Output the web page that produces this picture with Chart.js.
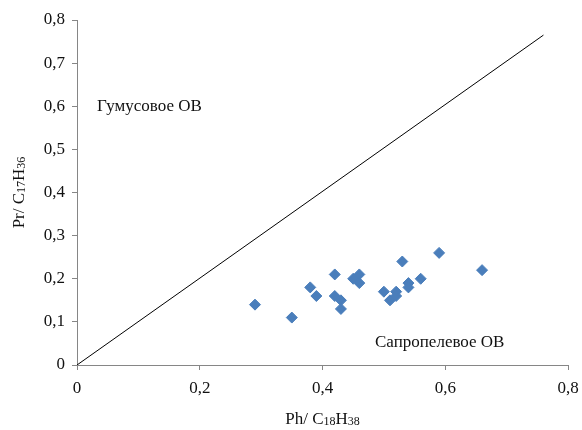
<!DOCTYPE html>
<html lang="ru">
<head>
<meta charset="utf-8" />
<title>Pr/C17 vs Ph/C18</title>
<script src="https://cdn.jsdelivr.net/npm/chart.js@4.4.1/dist/chart.umd.min.js"></script>
<style>
	html, body { margin: 0; padding: 0; background: #ffffff; }
	#wrap { width: 582px; height: 430px; }
</style>
</head>
<body>
<div id="wrap"><canvas id="chart" width="582" height="430"></canvas></div>
<script>
	// samples: Ph/C18H38 (x) and Pr/C17H36 (y)
	const phX = [0.29, 0.35, 0.38, 0.39, 0.42, 0.42, 0.43, 0.43, 0.45, 0.46, 0.46, 0.50, 0.51, 0.52, 0.52, 0.53, 0.54, 0.54, 0.56, 0.59, 0.66];
	const prY = [0.14, 0.11, 0.18, 0.16, 0.21, 0.16, 0.15, 0.13, 0.20, 0.21, 0.19, 0.17, 0.15, 0.17, 0.16, 0.24, 0.19, 0.18, 0.20, 0.26, 0.22];

	// dividing line between the two fields
	const lineX = [0, 0.76];
	const lineY = [0, 0.765];

	const xTicks = [0, 0.2, 0.4, 0.6, 0.8];
	const yTicks = [0, 0.1, 0.2, 0.3, 0.4, 0.5, 0.6, 0.7, 0.8];

	const fieldLabels = ['Гумусовое ОВ', 'Сапропелевое ОВ'];

	const serif = '"Liberation Serif", "Times New Roman", serif';
	const axisGrey = '#868686';
	const fmt = v => String(Math.round(v * 10) / 10).replace('.', ',');

	// draws text with digits as subscripts, e.g. C17H36
	function drawSub(ctx, parts, x, y) {
		let w = 0;
		parts.forEach(p => {
			ctx.font = (p.sub ? '12px ' : '17px ') + serif;
			w += ctx.measureText(p.t).width;
		});
		let cx = x - w / 2;
		parts.forEach(p => {
			ctx.font = (p.sub ? '12px ' : '17px ') + serif;
			ctx.fillText(p.t, cx, y + (p.sub ? 2 : 0));
			cx += ctx.measureText(p.t).width;
		});
	}

	const textPlugin = {
		id: 'texts',
		afterDraw(chart) {
			const ctx = chart.ctx;
			const a = chart.chartArea;
			ctx.save();
			ctx.fillStyle = '#111111';
			ctx.textBaseline = 'middle';
			ctx.textAlign = 'left';

			// x title
			drawSub(ctx, [{t: 'Ph/ C'}, {t: '18', sub: true}, {t: 'H'}, {t: '38', sub: true}], (a.left + a.right) / 2, 420);

			// y title
			ctx.save();
			ctx.translate(20, (a.top + a.bottom) / 2);
			ctx.rotate(-Math.PI / 2);
			drawSub(ctx, [{t: 'Pr/ C'}, {t: '17', sub: true}, {t: 'H'}, {t: '36', sub: true}], 0, 0);
			ctx.restore();

			// field names
			ctx.font = '17px ' + serif;
			ctx.fillText(fieldLabels[0], a.left + 20, 107);
			ctx.fillText(fieldLabels[1], a.left + 298, 343);
			ctx.restore();
		}
	};

	new Chart(document.getElementById('chart'), {
		type: 'scatter',
		data: {
			datasets: [
				{
					label: 'line',
					data: lineX.map((x, i) => ({ x: x, y: lineY[i] })),
					showLine: true,
					borderColor: '#000000',
					borderWidth: 1,
					pointRadius: 0
				},
				{
					label: 'samples',
					data: phX.map((x, i) => ({ x: x, y: prY[i] })),
					pointStyle: 'rectRot',
					pointRadius: 5.5,
					backgroundColor: '#4a7ebb',
					borderColor: '#4a7ebb',
					borderWidth: 1
				}
			]
		},
		options: {
			responsive: false,
			animation: false,
			layout: { padding: { top: 20, right: 14, left: 0, bottom: 0 } },
			plugins: {
				legend: { display: false },
				tooltip: { enabled: false }
			},
			scales: {
				x: {
					type: 'linear',
					min: 0, max: 0.8,
					afterBuildTicks: s => { s.ticks = xTicks.map(v => ({ value: v })); },
					afterFit: s => { s.height = 65; s.paddingLeft = 0; s.paddingRight = 0; },
					grid: { drawOnChartArea: false, drawTicks: true, tickLength: 5, color: axisGrey },
					border: { color: axisGrey, width: 1 },
					ticks: {
						callback: fmt,
						color: '#111111',
						padding: 8,
						font: { family: serif, size: 17 },
						maxRotation: 0
					}
				},
				y: {
					type: 'linear',
					min: 0, max: 0.8,
					afterBuildTicks: s => { s.ticks = yTicks.map(v => ({ value: v })); },
					afterFit: s => { s.width = 77; s.paddingTop = 0; s.paddingBottom = 0; },
					grid: { drawOnChartArea: false, drawTicks: true, tickLength: 5, color: axisGrey },
					border: { color: axisGrey, width: 1 },
					ticks: {
						callback: fmt,
						color: '#111111',
						padding: 7,
						font: { family: serif, size: 17 }
					}
				}
			}
		},
		plugins: [textPlugin]
	});
</script>
</body>
</html>
